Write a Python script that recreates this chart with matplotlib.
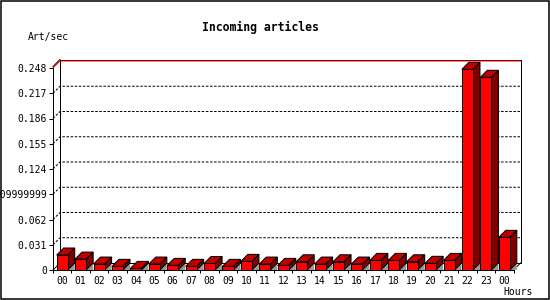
import matplotlib
matplotlib.use('Agg')
import matplotlib.pyplot as plt
import numpy as np
from matplotlib.patches import Polygon, Rectangle

# data
hours = ['00', '01', '02', '03', '04', '05', '06', '07', '08', '09', '10', '11',
         '12', '13', '14', '15', '16', '17', '18', '19', '20', '21', '22', '23', '00']
rates = [0.0184, 0.0134, 0.0073, 0.0045, 0.0020, 0.0073, 0.0057, 0.0045, 0.0080,
         0.0045, 0.0106, 0.0073, 0.0057, 0.0101, 0.0073, 0.0101, 0.0073, 0.0118,
         0.0118, 0.0101, 0.0082, 0.0118, 0.2464, 0.2366, 0.0401]
ytick_vals = [0, 0.031, 0.062, 0.093, 0.124, 0.155, 0.186, 0.217, 0.248]
ytick_text = ['0', '0.031', '0.062', '0.09999999', '0.124', '0.155', '0.186',
              '0.217', '0.248']

plt.rcParams['font.family'] = ['DejaVu Sans Mono']

W, H = 550, 300
fig = plt.figure(figsize=(W / 100, H / 100), dpi=100)
fig.patch.set_facecolor('white')

# front plane of the 3D plot, in pixels
left, right, bottom, top = 53, 513.5, 270, 68
ax = fig.add_axes([left / W, 1 - bottom / H, (right - left) / W, (bottom - top) / H])
n = len(hours)
ymax = ytick_vals[-1]
x0, x1 = -0.5, n - 0.5
ax.set_xlim(x0, x1)
ax.set_ylim(0, ymax)
ax.patch.set_alpha(0)

# depth offset (pixels -> data units)
depth_px = 7
px_y = ymax / (bottom - top)
dx = depth_px * n / (right - left)
dy = depth_px * px_y
eps = 1.5 * px_y
lw = 0.72

# walls
ax.plot([x0 + dx, x1 + dx, x1 + dx, x0 + dx, x0 + dx],
        [dy, dy, ymax + dy + eps, ymax + dy + eps, dy],
        color='black', lw=lw, clip_on=False, zorder=1)
ax.plot([x0, x0 + dx], [ymax + eps, ymax + dy + eps], color='black', lw=lw,
        clip_on=False, zorder=1)
ax.plot([x1, x1 + dx], [0, dy], color='black', lw=lw, clip_on=False, zorder=1)
ax.plot([x0, x0 + dx], [0, dy], color='black', lw=lw, clip_on=False, zorder=1)

# grid on the back wall
for v in ytick_vals[1:-1]:
    ax.plot([x0, x0 + dx, x1 + dx], [v, v + dy, v + dy], color='black', lw=lw,
            ls=(0, (2.5, 1.6)), clip_on=False, zorder=1.5)
ax.plot([x0, x0 + dx, x1 + dx], [ymax, ymax + dy, ymax + dy], color='red', lw=lw,
        clip_on=False, zorder=1.6)

# 3D bars
bw = 0.6
for i, v in enumerate(rates):
    xl, xr = i - bw / 2, i + bw / 2
    ax.add_patch(Polygon([(xr, 0), (xr + dx, dy), (xr + dx, 0)], closed=True,
                         fc='#999999', ec='none', clip_on=False, zorder=2))
    ax.add_patch(Polygon([(xr, 0), (xr + dx, dy), (xr + dx, v + dy), (xr, v)],
                         closed=True, fc='#800000', ec='black', lw=lw,
                         clip_on=False, zorder=3))
    ax.add_patch(Polygon([(xl, v), (xl + dx, v + dy), (xr + dx, v + dy), (xr, v)],
                         closed=True, fc='#c00000', ec='black', lw=lw,
                         clip_on=False, zorder=3))
    ax.add_patch(Rectangle((xl, 0), bw, v, fc='#ff0000', ec='black', lw=lw,
                           clip_on=False, zorder=3))

# axes
for s in ['top', 'right']:
    ax.spines[s].set_visible(False)
for s in ['left', 'bottom']:
    ax.spines[s].set_linewidth(lw)
    ax.spines[s].set_zorder(4)
ax.set_yticks(ytick_vals, ytick_text)
ax.tick_params(axis='y', direction='out', length=2.9, width=lw, pad=1.5,
               labelsize=7)
ax.set_xticks(range(n), hours)
ax.set_xticks(np.arange(x0, x1 + 0.01, 1), minor=True)
ax.tick_params(axis='x', which='major', length=0, pad=4.5, labelsize=7)
ax.tick_params(axis='x', which='minor', direction='out', length=2.2, width=lw)

fig.text(260 / W, 1 - 27 / H, 'Incoming articles', ha='center', va='center',
         fontsize=8.3, fontweight='bold')
fig.text(28 / W, 1 - 37 / H, 'Art/sec', ha='left', va='center', fontsize=7)
fig.text(533 / W, 1 - 292 / H, 'Hours', ha='right', va='center', fontsize=7)

# image border
fig.patches.append(Rectangle((1 / W, 1 / H), 1 - 2 / W, 1 - 2 / H,
                             transform=fig.transFigure, fill=False,
                             ec='black', lw=1.1))

fig.savefig('out.png', dpi=100)
